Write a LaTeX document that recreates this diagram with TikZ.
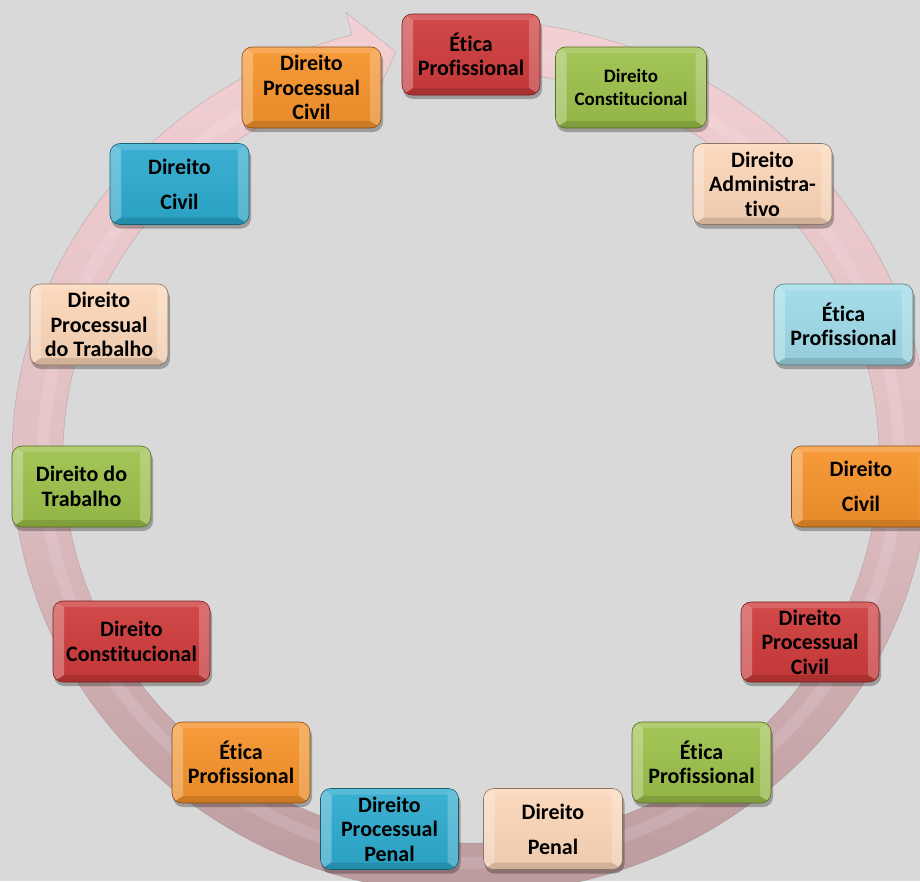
\documentclass[tikz,border=0pt]{standalone}
\usepackage{fontspec}
\setmainfont{Carlito}[Ligatures=CommonOff]
\definecolor{bgc}{RGB}{217,217,217}
\definecolor{cred}{RGB}{206,58,58}
\definecolor{cgreen}{RGB}{156,192,74}
\definecolor{cpeach}{RGB}{252,214,184}
\definecolor{clblue}{RGB}{158,218,232}
\definecolor{corange}{RGB}{246,146,42}
\definecolor{cblue}{RGB}{44,170,206}
\definecolor{ringtop}{RGB}{242,208,211}
\definecolor{ringmid}{RGB}{224,191,195}
\definecolor{ringbot}{RGB}{186,153,157}
\tikzset{lbl/.style={align=center, inner sep=0pt, text=black, font=\bfseries\fontsize{22}{24.5}\selectfont}}
\newcommand\bbox[8]{%
 \pgfmathsetmacro\bxL{#2-#4/2}\pgfmathsetmacro\bxR{#2+#4/2}%
 \pgfmathsetmacro\bxT{#3-#5/2}\pgfmathsetmacro\bxB{#3+#5/2}%
 \fill[black,opacity=.28,rounded corners=10] (\bxL+1,\bxT+4) rectangle (\bxR+2,\bxB+4);
 \begin{scope}
  \clip[rounded corners=10] (\bxL,\bxT) rectangle (\bxR,\bxB);
  \shade[top color=#6!92!white, bottom color=#6!94!black] (\bxL,\bxT) rectangle (\bxR,\bxB);
  \fill[white,opacity=.15] (\bxL,\bxT) -- (\bxR,\bxT) -- (\bxR-11,\bxT+6) -- (\bxL+11,\bxT+6) -- cycle;
  \fill[white,opacity=.28] (\bxL,\bxT) -- (\bxL+11,\bxT+6) -- (\bxL+11,\bxB-7) -- (\bxL,\bxB) -- cycle;
  \fill[white,opacity=.22] (\bxR,\bxT) -- (\bxR-11,\bxT+6) -- (\bxR-11,\bxB-7) -- (\bxR,\bxB) -- cycle;
  \fill[black,opacity=.12] (\bxL,\bxB) -- (\bxL+11,\bxB-7) -- (\bxR-11,\bxB-7) -- (\bxR,\bxB) -- cycle;
 \end{scope}
 \draw[#6!55!black,line width=.6,rounded corners=10] (\bxL,\bxT) rectangle (\bxR,\bxB);
 \node[lbl,#7] (#1) at (#2,#3) {#8};
}
\begin{document}
\begin{tikzpicture}[x=1pt,y=-1pt]
\fill[bgc] (0,0) rectangle (920,881);
\useasboundingbox (0,0) rectangle (920,881);
% ring arrow
\path[top color=ringtop, bottom color=ringbot, middle color=ringmid]
 ({471+459*cos(275)},{457+437*sin(275)}) arc[start angle=275, end angle=615, x radius=459, y radius=437]
 -- ({471+482*cos(615)},{457+460*sin(615)})
 -- ({471+433.5*cos(620)},{457+411.5*sin(620)})
 -- ({471+385*cos(615)},{457+363*sin(615)})
 -- ({471+408*cos(615)},{457+386*sin(615)})
 arc[start angle=615, end angle=275, x radius=408, y radius=386] -- cycle;
\draw[white,opacity=.12,line width=12]
 ({471+428*cos(276)},{457+406*sin(276)}) arc[start angle=276, end angle=612, x radius=428, y radius=406];
\draw[ringbot!70!black,opacity=.35,line width=.5]
 ({471+459*cos(275)},{457+437*sin(275)}) arc[start angle=275, end angle=615, x radius=459, y radius=437]
 -- ({471+482*cos(615)},{457+460*sin(615)})
 -- ({471+433.5*cos(620)},{457+411.5*sin(620)})
 -- ({471+385*cos(615)},{457+363*sin(615)})
 -- ({471+408*cos(615)},{457+386*sin(615)})
 arc[start angle=615, end angle=275, x radius=408, y radius=386] -- cycle;
% boxes
\bbox{ep1}{471}{54.5}{138}{81}{cred}{}{Ética\\Profissional}
\bbox{dc1}{631}{87.5}{151}{81}{cgreen}{font=\bfseries\fontsize{19}{23}\selectfont}{Direito\\Constitucional}
\bbox{da}{762.5}{184}{139}{81}{cpeach}{}{Direito\\Administra-\\tivo}
\bbox{ep2}{843.5}{324.5}{139}{81}{clblue}{}{Ética\\Profissional}
\bbox{dcv1}{861}{486.5}{139}{81}{corange}{}{Direito\\[10.5pt]Civil}
\bbox{dpc1}{810}{642}{138}{80}{cred}{}{Direito\\Processual\\Civil}
\bbox{ep3}{701.5}{762.5}{139}{81}{cgreen}{}{Ética\\Profissional}
\bbox{dp}{553}{829}{139}{81}{cpeach}{}{Direito\\[10.5pt]Penal}
\bbox{dpp}{389.5}{829}{138}{81}{cblue}{}{Direito\\Processual\\Penal}
\bbox{ep4}{241}{762.5}{138}{81}{corange}{}{Ética\\Profissional}
\bbox{dc2}{131.5}{641.5}{157}{81}{cred}{}{Direito\\Constitucional}
\bbox{dt}{81.5}{486.5}{139}{81}{cgreen}{}{Direito do\\Trabalho}
\bbox{dpt}{99}{324.5}{138}{81}{cpeach}{}{Direito\\Processual\\do Trabalho}
\bbox{dcv2}{179.5}{184}{139}{81}{cblue}{}{Direito\\[10.5pt]Civil}
\bbox{dpc2}{311.5}{87.5}{139}{81}{corange}{}{Direito\\Processual\\Civil}
\end{tikzpicture}
\end{document}
